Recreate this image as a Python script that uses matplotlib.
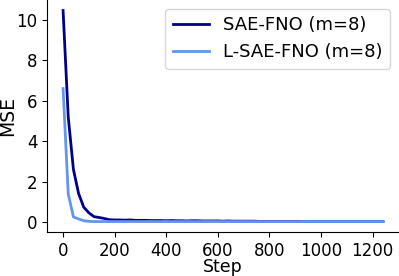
import matplotlib
matplotlib.use("Agg")
import matplotlib.pyplot as plt
import numpy as np

steps = list(range(0, 1241, 20))
sae_fno = [10.45, 5.2, 2.62, 1.43, 0.75, 0.47, 0.28, 0.24, 0.19, 0.13,
           0.12, 0.12, 0.11, 0.12, 0.10, 0.10, 0.10, 0.09, 0.09, 0.09,
           0.08, 0.09, 0.08, 0.08, 0.07, 0.08, 0.08, 0.07, 0.07, 0.07,
           0.07, 0.06, 0.07, 0.06, 0.06, 0.06, 0.06, 0.06, 0.05, 0.05,
           0.05, 0.05, 0.05, 0.05, 0.05, 0.05, 0.05, 0.04, 0.04, 0.04,
           0.04, 0.04, 0.04, 0.04, 0.04, 0.04, 0.04, 0.04, 0.04, 0.04,
           0.04, 0.04, 0.04]
l_sae_fno = [6.6, 1.4, 0.27, 0.17, 0.08, 0.05, 0.04, 0.04, 0.04, 0.04,
             0.04, 0.04, 0.04, 0.04, 0.04, 0.04, 0.04, 0.04, 0.04, 0.04,
             0.04, 0.04, 0.04, 0.04, 0.04, 0.04, 0.04, 0.04, 0.04, 0.04,
             0.04, 0.04, 0.04, 0.04, 0.04, 0.04, 0.04, 0.04, 0.04, 0.04,
             0.04, 0.04, 0.04, 0.04, 0.04, 0.04, 0.04, 0.04, 0.04, 0.04,
             0.04, 0.04, 0.04, 0.04, 0.04, 0.04, 0.04, 0.04, 0.04, 0.04,
             0.04, 0.04, 0.04]
labels = ["SAE-FNO (m=8)", "L-SAE-FNO (m=8)"]

fig = plt.figure(figsize=(3.99, 2.76), dpi=100)
ax = fig.add_axes([0.118, 0.159, 0.882, 0.841])
ax.plot(steps, sae_fno, color="darkblue", lw=2, label=labels[0])
ax.plot(steps, l_sae_fno, color="cornflowerblue", lw=2, label=labels[1])
ax.spines["top"].set_visible(False)
ax.spines["right"].set_visible(False)
ax.set_xticks([0, 200, 400, 600, 800, 1000, 1200])
ax.set_yticks([0, 2, 4, 6, 8, 10])
ax.tick_params(labelsize=12)
ax.set_xlabel("Step", fontsize=12.5, labelpad=-1)
ax.set_ylabel("MSE", fontsize=13.5)
ax.yaxis.set_label_coords(-0.084, 0.5)
ax.legend(fontsize=13, loc="upper right")
fig.savefig("out.png", dpi=100)
